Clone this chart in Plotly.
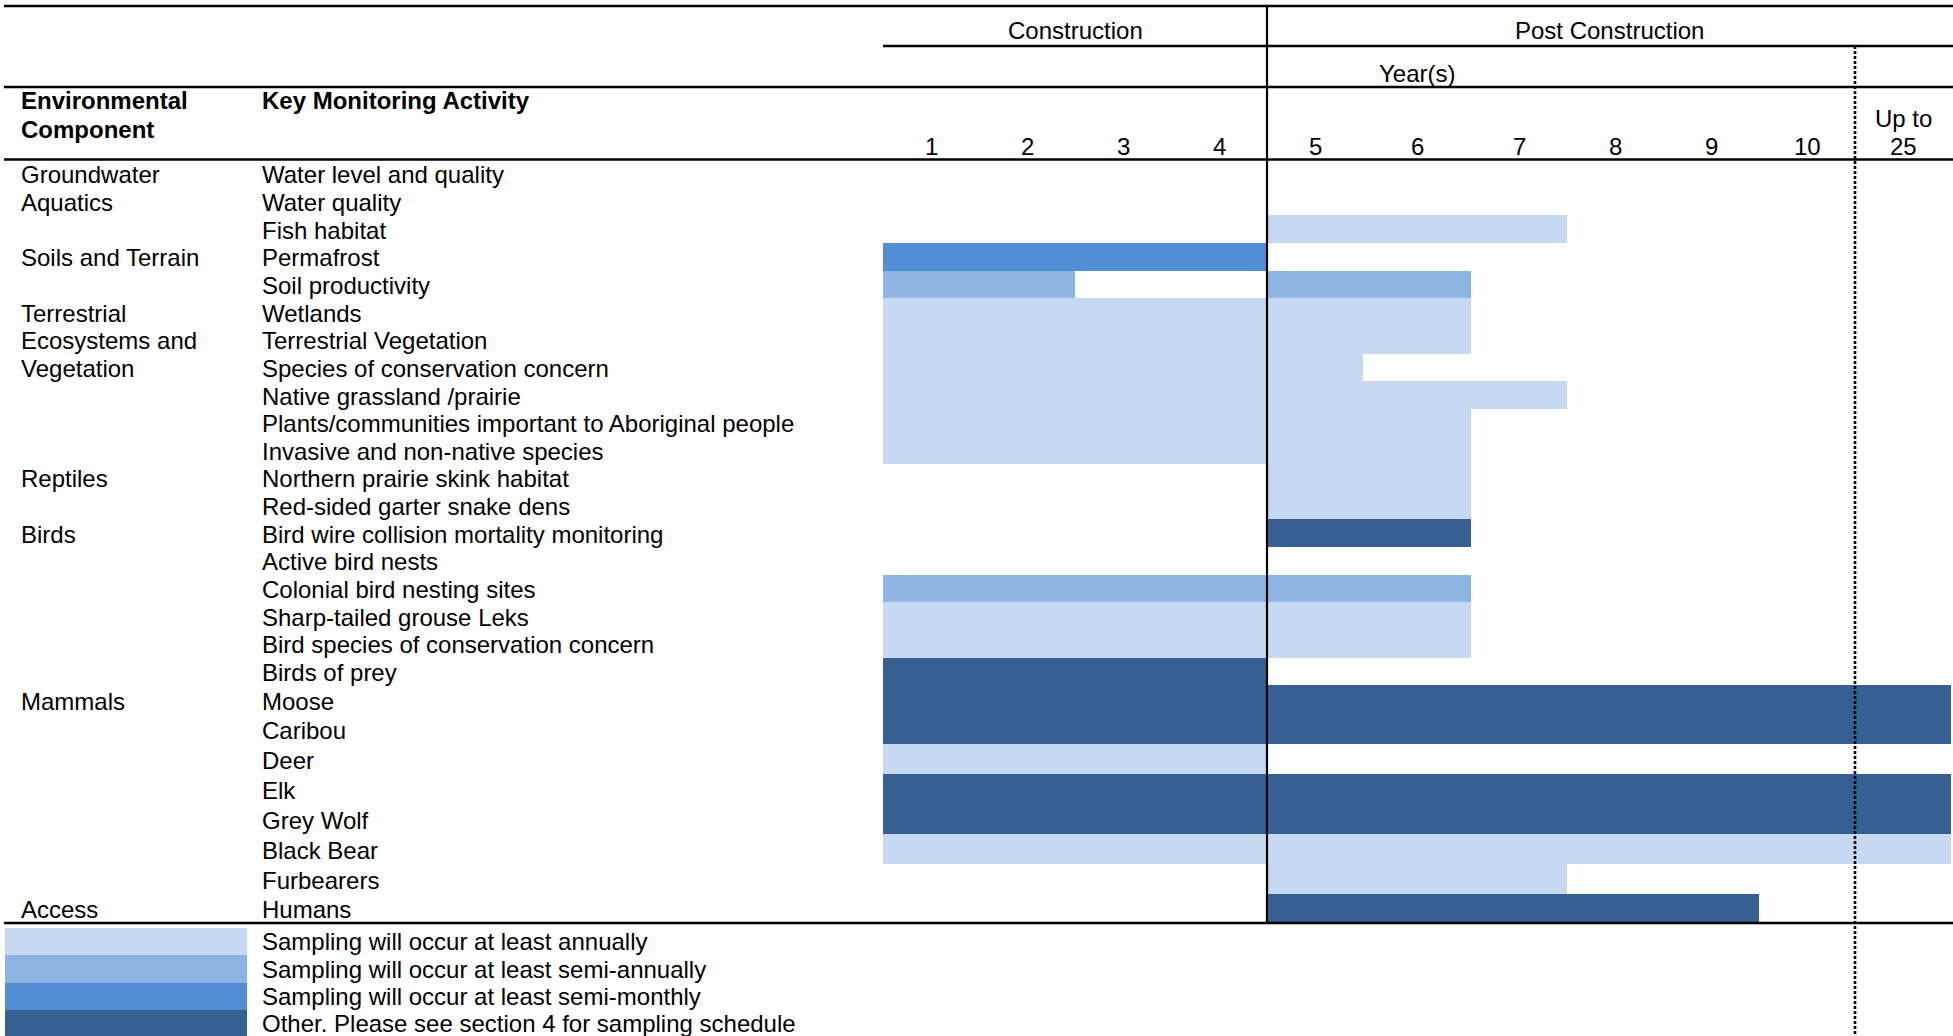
import plotly.graph_objects as go
import numpy as np

# ---------------- data ----------------
activities = [
    "Water level and quality", "Water quality", "Fish habitat", "Permafrost",
    "Soil productivity", "Wetlands", "Terrestrial Vegetation",
    "Species of conservation concern", "Native grassland /prairie",
    "Plants/communities important to Aboriginal people",
    "Invasive and non-native species", "Northern prairie skink habitat",
    "Red-sided garter snake dens", "Bird wire collision mortality monitoring",
    "Active bird nests", "Colonial bird nesting sites", "Sharp-tailed grouse Leks",
    "Bird species of conservation concern", "Birds of prey", "Moose", "Caribou",
    "Deer", "Elk", "Grey Wolf", "Black Bear", "Furbearers", "Humans",
]
component_labels = {
    0: "Groundwater", 1: "Aquatics", 3: "Soils and Terrain", 5: "Terrestrial",
    6: "Ecosystems and", 7: "Vegetation", 11: "Reptiles", 13: "Birds",
    19: "Mammals", 26: "Access",
}
column_labels = ["1", "2", "3", "4", "5", "6", "7", "8", "9", "10", "Up to<br>25"]
phase_labels = ["Construction", "Post Construction"]
levels = ["annual", "semi-annual", "semi-monthly", "other"]
legend_labels = [
    "Sampling will occur at least annually",
    "Sampling will occur at least semi-annually",
    "Sampling will occur at least semi-monthly",
    "Other. Please see section 4 for sampling schedule",
]
# (activity, level, first column, last column) ; columns 1..11 (11 = "Up to 25")
spans = [
    ("Fish habitat", "annual", 5, 7),
    ("Permafrost", "semi-monthly", 1, 4),
    ("Soil productivity", "semi-annual", 1, 2),
    ("Soil productivity", "semi-annual", 5, 6),
    ("Wetlands", "annual", 1, 6),
    ("Terrestrial Vegetation", "annual", 1, 6),
    ("Species of conservation concern", "annual", 1, 5),
    ("Native grassland /prairie", "annual", 1, 7),
    ("Plants/communities important to Aboriginal people", "annual", 1, 6),
    ("Invasive and non-native species", "annual", 1, 6),
    ("Northern prairie skink habitat", "annual", 5, 6),
    ("Red-sided garter snake dens", "annual", 5, 6),
    ("Bird wire collision mortality monitoring", "other", 5, 6),
    ("Colonial bird nesting sites", "semi-annual", 1, 6),
    ("Sharp-tailed grouse Leks", "annual", 1, 6),
    ("Bird species of conservation concern", "annual", 1, 6),
    ("Birds of prey", "other", 1, 4),
    ("Moose", "other", 1, 11),
    ("Caribou", "other", 1, 11),
    ("Deer", "annual", 1, 4),
    ("Elk", "other", 1, 11),
    ("Grey Wolf", "other", 1, 11),
    ("Black Bear", "annual", 1, 11),
    ("Furbearers", "annual", 5, 7),
    ("Humans", "other", 5, 9),
]

# ---------------- style / layout ----------------
W, H = 1953, 1036
colors = {"annual": "#C6D9F1", "semi-annual": "#8EB4E3",
          "semi-monthly": "#538ED5", "other": "#376092"}
FONT = "Liberation Sans, Arial, sans-serif"
FS = 24
col_widths = [1, 1, 1, 1, 1, 1.125, 1, 1, 1, 1, 1]
row_heights = [27.65] * 19 + [29.35, 29.35] + [30] * 5 + [29]
col_edges = np.concatenate([[0], np.cumsum(col_widths)])
row_edges = np.concatenate([[0], np.cumsum(row_heights)])
row_centers = (row_edges[:-1] + row_edges[1:]) / 2
col_centers = (col_edges[:-1] + col_edges[1:]) / 2

def px_x(x):
    return x / W

def px_y(y):
    return 1 - y / H

fig = go.Figure()
idx = {a: i for i, a in enumerate(activities)}
for lv in levels:
    s = [sp for sp in spans if sp[1] == lv]
    rows = [idx[sp[0]] for sp in s]
    fig.add_trace(go.Bar(
        orientation="h",
        y=[row_centers[r] for r in rows],
        base=[col_edges[sp[2] - 1] for sp in s],
        x=[col_edges[sp[3]] - col_edges[sp[2] - 1] for sp in s],
        width=[row_heights[r] for r in rows],
        marker=dict(color=colors[lv], line=dict(width=0)),
        showlegend=False, hoverinfo="skip",
        xaxis="x", yaxis="y",
    ))

# legend swatches
leg_h = 27.4
fig.add_trace(go.Bar(
    orientation="h",
    y=[leg_h * (i + 0.5) for i in range(len(levels))],
    x=[1] * len(levels), base=[0] * len(levels), width=[leg_h] * len(levels),
    marker=dict(color=[colors[l] for l in levels], line=dict(width=0)),
    showlegend=False, hoverinfo="skip", xaxis="x2", yaxis="y2",
))

ann = []
def txt(text, x, y, xref="paper", yref="paper", xanchor="left", bold=False):
    ann.append(dict(text=f"<b>{text}</b>" if bold else text, x=x, y=y, xref=xref,
                    yref=yref, xanchor=xanchor, yanchor="middle", showarrow=False,
                    font=dict(family=FONT, size=FS, color="black")))

X_COMP, X_ACT = 18.5, 259.5
for i, a in enumerate(activities):
    txt(a, px_x(X_ACT), row_centers[i] + 1, yref="y")
for i, c in component_labels.items():
    txt(c, px_x(X_COMP), row_centers[i] + 1, yref="y")
for i, lab in enumerate(legend_labels):
    txt(lab, px_x(X_ACT), leg_h * (i + 0.5), yref="y2")

txt("Environmental", px_x(X_COMP), px_y(101), bold=True)
txt("Component", px_x(X_COMP), px_y(129.5), bold=True)
txt("Key Monitoring Activity", px_x(X_ACT), px_y(101), bold=True)
txt(phase_labels[0], (col_edges[0] + col_edges[4]) / 2, px_y(31), xref="x", xanchor="center")
txt(phase_labels[1], (col_edges[4] + col_edges[-1]) / 2, px_y(31), xref="x", xanchor="center")
txt("Year(s)", (col_edges[4] + col_edges[7]) / 2, px_y(73.5), xref="x", xanchor="center")
for i, lab in enumerate(column_labels):
    parts = lab.split("<br>")
    if len(parts) == 1:
        txt(parts[0], col_centers[i], px_y(146), xref="x", xanchor="center")
    else:
        txt(parts[0], col_centers[i], px_y(118.5), xref="x", xanchor="center")
        txt(parts[1], col_centers[i], px_y(146), xref="x", xanchor="center")

shapes = []
def hline(y, x0=4, x1=W, w=2.6):
    shapes.append(dict(type="line", xref="paper", yref="paper", x0=px_x(x0), x1=px_x(x1),
                       y0=px_y(y), y1=px_y(y), line=dict(color="black", width=w)))

hline(6)
hline(46, x0=883)
hline(87)
hline(159.5)
hline(923)
shapes.append(dict(type="line", xref="x", yref="paper", x0=col_edges[4], x1=col_edges[4],
                   y0=px_y(6), y1=px_y(923), line=dict(color="black", width=2.2)))
shapes.append(dict(type="line", xref="x", yref="paper", x0=col_edges[10], x1=col_edges[10],
                   y0=px_y(46), y1=px_y(H), line=dict(color="black", width=2.6, dash="3px,2px")))

fig.update_layout(
    width=W, height=H, margin=dict(l=0, r=0, t=0, b=0),
    paper_bgcolor="white", plot_bgcolor="white", barmode="overlay", bargap=0,
    xaxis=dict(domain=[px_x(883), px_x(1951)], range=[0, col_edges[-1]], visible=False,
               fixedrange=True),
    yaxis=dict(domain=[px_y(160 + row_edges[-1]), px_y(160)], range=[row_edges[-1], 0],
               visible=False, fixedrange=True),
    xaxis2=dict(domain=[px_x(5), px_x(247)], range=[0, 1], visible=False, anchor="y2",
                fixedrange=True),
    yaxis2=dict(domain=[0, px_y(928)], range=[H - 928, 0], visible=False,
                anchor="x2", fixedrange=True),
    annotations=ann, shapes=shapes,
)
fig.write_html(
    "out.html",
    config={"displayModeBar": False},
    post_script="document.body.style.margin='0px';document.body.style.overflow='hidden';",
)
